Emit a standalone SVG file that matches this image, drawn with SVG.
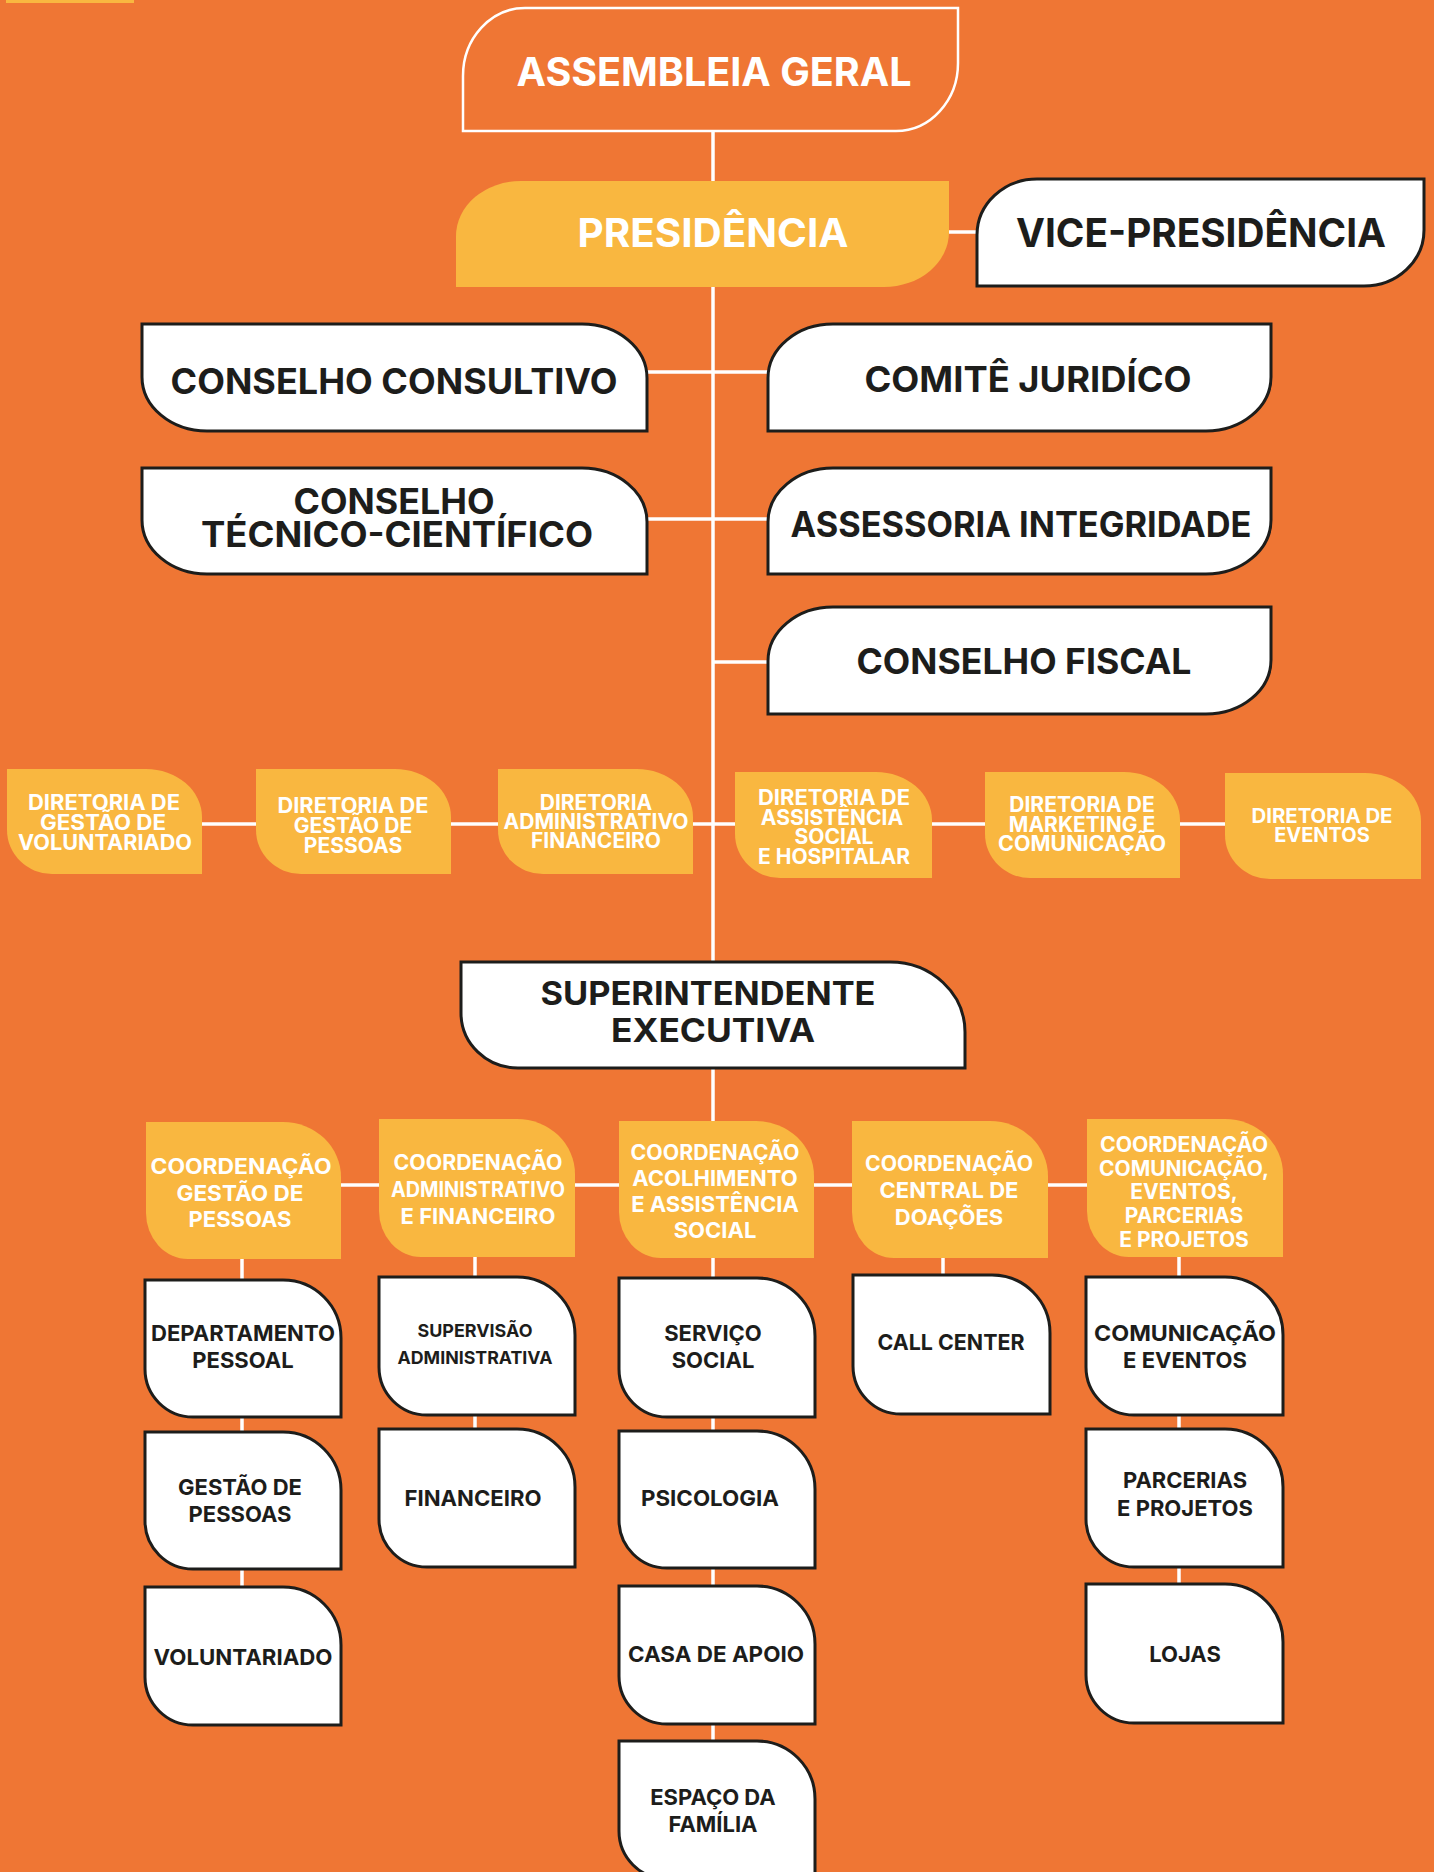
<svg xmlns="http://www.w3.org/2000/svg" width="1434" height="1872" viewBox="0 0 1434 1872">
<style>
.bg{fill:#EF7634}
.yb{fill:#F9B740}
.wb{fill:#FFFFFF;stroke:#1D1D1B;stroke-width:3}
.ob{fill:none;stroke:#FFFFFF;stroke-width:2.5}
.lk{stroke:#FFFFFF;stroke-width:3.5;fill:none}
text{font-family:Inter,"Liberation Sans",sans-serif;font-weight:700;text-anchor:middle}
.tw{fill:#FFFFFF}
.td{fill:#1D1D1B}
.f40{font-size:40px}
.f35{font-size:35px}
.f32{font-size:32px}
.f21{font-size:21px}
.f20{font-size:20px}
.f22{font-size:22px}
.f18{font-size:18px}
</style>
<rect class="bg" x="0" y="0" width="1434" height="1872"/>
<rect class="yb" x="6" y="0" width="128" height="3"/>
<g id="connectors">
<line class="lk" x1="713" y1="131" x2="713" y2="962"/>
<line class="lk" x1="713" y1="1068" x2="713" y2="1121"/>
<line class="lk" x1="949" y1="232" x2="977" y2="232"/>
<line class="lk" x1="647" y1="372" x2="768" y2="372"/>
<line class="lk" x1="647" y1="519" x2="768" y2="519"/>
<line class="lk" x1="713" y1="662" x2="768" y2="662"/>
<line class="lk" x1="202" y1="824" x2="1225" y2="824"/>
<line class="lk" x1="341" y1="1185" x2="1087" y2="1185"/>
<line class="lk" x1="242" y1="1259" x2="242" y2="1587"/>
<line class="lk" x1="475" y1="1257" x2="475" y2="1429"/>
<line class="lk" x1="713" y1="1258" x2="713" y2="1741"/>
<line class="lk" x1="943" y1="1258" x2="943" y2="1275"/>
<line class="lk" x1="1179" y1="1257" x2="1179" y2="1584"/>
</g>
<g id="assembleia">
<path class="ob" d="M525,8 H958 V63 A62 68 0 0 1 896,131 H463 V76 A62 68 0 0 1 525,8 Z"/>
<text class="tw f40" x="714" y="86" textLength="395" lengthAdjust="spacingAndGlyphs">ASSEMBLEIA GERAL</text>
</g>
<g id="presidencia">
<path class="yb" d="M521,181 H949 V232 A65 55 0 0 1 884,287 H456 V236 A65 55 0 0 1 521,181 Z"/>
<text class="tw f40" x="713" y="247" textLength="271" lengthAdjust="spacingAndGlyphs">PRESIDÊNCIA</text>
</g>
<g id="vice">
<path class="wb" d="M1037,179 H1424 V230 A60 56 0 0 1 1364,286 H977 V235 A60 56 0 0 1 1037,179 Z"/>
<text class="td f40" x="1201" y="247" textLength="370" lengthAdjust="spacingAndGlyphs">VICE-PRESIDÊNCIA</text>
</g>
<g id="consultivo">
<path class="wb" d="M142,324 H582 A65 54 0 0 1 647,378 V431 H207 A65 54 0 0 1 142,377 Z"/>
<text class="td f35" x="394" y="394" textLength="447" lengthAdjust="spacingAndGlyphs">CONSELHO CONSULTIVO</text>
</g>
<g id="tecnico">
<path class="wb" d="M142,468 H582 A65 54 0 0 1 647,522 V574 H207 A65 54 0 0 1 142,520 Z"/>
<text class="td f35" x="394" y="514" textLength="201" lengthAdjust="spacingAndGlyphs">CONSELHO</text>
<text class="td f35" x="397" y="547" textLength="392" lengthAdjust="spacingAndGlyphs">TÉCNICO-CIENTÍFICO</text>
</g>
<g id="comite">
<path class="wb" d="M833,324 H1271 V377 A65 54 0 0 1 1206,431 H768 V378 A65 54 0 0 1 833,324 Z"/>
<text class="td f35" x="1028" y="392" textLength="327" lengthAdjust="spacingAndGlyphs">COMITÊ JURIDÍCO</text>
</g>
<g id="assessoria">
<path class="wb" d="M833,468 H1271 V520 A65 54 0 0 1 1206,574 H768 V522 A65 54 0 0 1 833,468 Z"/>
<text class="td f35" x="1021" y="537" textLength="461" lengthAdjust="spacingAndGlyphs">ASSESSORIA INTEGRIDADE</text>
</g>
<g id="fiscal">
<path class="wb" d="M833,607 H1271 V660 A65 54 0 0 1 1206,714 H768 V661 A65 54 0 0 1 833,607 Z"/>
<text class="td f35" x="1024" y="674" textLength="335" lengthAdjust="spacingAndGlyphs">CONSELHO FISCAL</text>
</g>
<g id="dir-voluntariado">
<path class="yb" d="M7,769 H146 A56 48 0 0 1 202,817 V874 H52 A45 44 0 0 1 7,830 Z"/>
<text class="tw f21" x="104" y="810" textLength="152" lengthAdjust="spacingAndGlyphs">DIRETORIA DE</text>
<text class="tw f21" x="103" y="830" textLength="126" lengthAdjust="spacingAndGlyphs">GESTÃO DE</text>
<text class="tw f21" x="105" y="850" textLength="174" lengthAdjust="spacingAndGlyphs">VOLUNTARIADO</text>
</g>
<g id="dir-pessoas">
<path class="yb" d="M256,769 H395 A56 48 0 0 1 451,817 V874 H301 A45 44 0 0 1 256,830 Z"/>
<text class="tw f21" x="353" y="813" textLength="151" lengthAdjust="spacingAndGlyphs">DIRETORIA DE</text>
<text class="tw f21" x="353" y="833">GESTÃO DE</text>
<text class="tw f21" x="353" y="853">PESSOAS</text>
</g>
<g id="dir-adm">
<path class="yb" d="M498,769 H637 A56 48 0 0 1 693,817 V874 H543 A45 44 0 0 1 498,830 Z"/>
<text class="tw f21" x="596" y="810">DIRETORIA</text>
<text class="tw f21" x="596" y="829" textLength="185" lengthAdjust="spacingAndGlyphs">ADMINISTRATIVO</text>
<text class="tw f21" x="596" y="848">FINANCEIRO</text>
</g>
<g id="dir-assistencia">
<path class="yb" d="M735,772 H876 A56 48 0 0 1 932,820 V878 H780 A45 44 0 0 1 735,834 Z"/>
<text class="tw f21" x="834" y="805" textLength="152" lengthAdjust="spacingAndGlyphs">DIRETORIA DE</text>
<text class="tw f21" x="832" y="825">ASSISTÊNCIA</text>
<text class="tw f21" x="834" y="844">SOCIAL</text>
<text class="tw f21" x="834" y="864">E HOSPITALAR</text>
</g>
<g id="dir-marketing">
<path class="yb" d="M985,772 H1124 A56 48 0 0 1 1180,820 V878 H1030 A45 44 0 0 1 985,834 Z"/>
<text class="tw f21" x="1082" y="812">DIRETORIA DE</text>
<text class="tw f21" x="1082" y="832">MARKETING E</text>
<text class="tw f21" x="1082" y="851" textLength="168" lengthAdjust="spacingAndGlyphs">COMUNICAÇÃO</text>
</g>
<g id="dir-eventos">
<path class="yb" d="M1225,773 H1365 A56 48 0 0 1 1421,821 V879 H1270 A45 44 0 0 1 1225,835 Z"/>
<text class="tw f20" x="1322" y="823" textLength="141" lengthAdjust="spacingAndGlyphs">DIRETORIA DE</text>
<text class="tw f20" x="1322" y="842">EVENTOS</text>
</g>
<g id="superintendente">
<path class="wb" d="M461,962 H890 A75 70 0 0 1 965,1032 V1068 H518 A57 55 0 0 1 461,1013 Z"/>
<text class="td f32" x="708" y="1005" textLength="335" lengthAdjust="spacingAndGlyphs">SUPERINTENDENTE</text>
<text class="td f32" x="713" y="1042" textLength="204" lengthAdjust="spacingAndGlyphs">EXECUTIVA</text>
</g>
<g id="coord-pessoas">
<path class="yb" d="M146,1122 H283 A58 55 0 0 1 341,1177 V1259 H188 A42 46 0 0 1 146,1213 Z"/>
<text class="tw f21" x="241" y="1174" textLength="181" lengthAdjust="spacingAndGlyphs">COORDENAÇÃO</text>
<text class="tw f22" x="240" y="1201" textLength="127" lengthAdjust="spacingAndGlyphs">GESTÃO DE</text>
<text class="tw f22" x="240" y="1227">PESSOAS</text>
</g>
<g id="coord-adm">
<path class="yb" d="M379,1119 H517 A58 55 0 0 1 575,1174 V1257 H421 A42 46 0 0 1 379,1211 Z"/>
<text class="tw f21" x="478" y="1170" textLength="169" lengthAdjust="spacingAndGlyphs">COORDENAÇÃO</text>
<text class="tw f21" x="478" y="1197" textLength="174" lengthAdjust="spacingAndGlyphs">ADMINISTRATIVO</text>
<text class="tw f22" x="478" y="1224">E FINANCEIRO</text>
</g>
<g id="coord-acolhimento">
<path class="yb" d="M619,1121 H756 A58 55 0 0 1 814,1176 V1258 H661 A42 46 0 0 1 619,1212 Z"/>
<text class="tw f21" x="715" y="1160" textLength="169" lengthAdjust="spacingAndGlyphs">COORDENAÇÃO</text>
<text class="tw f22" x="715" y="1186">ACOLHIMENTO</text>
<text class="tw f22" x="715" y="1212">E ASSISTÊNCIA</text>
<text class="tw f22" x="715" y="1238">SOCIAL</text>
</g>
<g id="coord-doacoes">
<path class="yb" d="M852,1121 H990 A58 55 0 0 1 1048,1176 V1258 H894 A42 46 0 0 1 852,1212 Z"/>
<text class="tw f21" x="949" y="1171" textLength="168" lengthAdjust="spacingAndGlyphs">COORDENAÇÃO</text>
<text class="tw f22" x="949" y="1198">CENTRAL DE</text>
<text class="tw f22" x="949" y="1225">DOAÇÕES</text>
</g>
<g id="coord-comunicacao">
<path class="yb" d="M1087,1119 H1225 A58 55 0 0 1 1283,1174 V1257 H1129 A42 46 0 0 1 1087,1211 Z"/>
<text class="tw f21" x="1184" y="1152" textLength="168" lengthAdjust="spacingAndGlyphs">COORDENAÇÃO</text>
<text class="tw f21" x="1184" y="1176" textLength="170" lengthAdjust="spacingAndGlyphs">COMUNICAÇÃO,</text>
<text class="tw f21" x="1184" y="1199">EVENTOS,</text>
<text class="tw f21" x="1184" y="1223">PARCERIAS</text>
<text class="tw f21" x="1184" y="1247">E PROJETOS</text>
</g>
<g id="dep-pessoal">
<path class="wb" d="M145,1280 H283 A58 58 0 0 1 341,1338 V1417 H193 A48 48 0 0 1 145,1369 Z"/>
<text class="td f22" x="243" y="1341" textLength="184" lengthAdjust="spacingAndGlyphs">DEPARTAMENTO</text>
<text class="td f22" x="243" y="1368">PESSOAL</text>
</g>
<g id="gestao-pessoas">
<path class="wb" d="M145,1432 H283 A58 58 0 0 1 341,1490 V1569 H193 A48 48 0 0 1 145,1521 Z"/>
<text class="td f22" x="240" y="1495">GESTÃO DE</text>
<text class="td f22" x="240" y="1522">PESSOAS</text>
</g>
<g id="voluntariado">
<path class="wb" d="M145,1587 H283 A58 58 0 0 1 341,1645 V1725 H193 A48 48 0 0 1 145,1677 Z"/>
<text class="td f22" x="243" y="1665" textLength="179" lengthAdjust="spacingAndGlyphs">VOLUNTARIADO</text>
</g>
<g id="supervisao">
<path class="wb" d="M379,1277 H517 A58 58 0 0 1 575,1335 V1415 H427 A48 48 0 0 1 379,1367 Z"/>
<text class="td f18" x="475" y="1337" textLength="115" lengthAdjust="spacingAndGlyphs">SUPERVISÃO</text>
<text class="td f18" x="475" y="1364" textLength="155" lengthAdjust="spacingAndGlyphs">ADMINISTRATIVA</text>
</g>
<g id="financeiro">
<path class="wb" d="M379,1429 H517 A58 58 0 0 1 575,1487 V1567 H427 A48 48 0 0 1 379,1519 Z"/>
<text class="td f22" x="473" y="1506" textLength="137" lengthAdjust="spacingAndGlyphs">FINANCEIRO</text>
</g>
<g id="servico-social">
<path class="wb" d="M619,1278 H757 A58 58 0 0 1 815,1336 V1417 H667 A48 48 0 0 1 619,1369 Z"/>
<text class="td f22" x="713" y="1341">SERVIÇO</text>
<text class="td f22" x="713" y="1368">SOCIAL</text>
</g>
<g id="psicologia">
<path class="wb" d="M619,1431 H757 A58 58 0 0 1 815,1489 V1568 H667 A48 48 0 0 1 619,1520 Z"/>
<text class="td f22" x="710" y="1506" textLength="138" lengthAdjust="spacingAndGlyphs">PSICOLOGIA</text>
</g>
<g id="casa-apoio">
<path class="wb" d="M619,1586 H757 A58 58 0 0 1 815,1644 V1724 H667 A48 48 0 0 1 619,1676 Z"/>
<text class="td f22" x="716" y="1662" textLength="176" lengthAdjust="spacingAndGlyphs">CASA DE APOIO</text>
</g>
<g id="espaco-familia">
<path class="wb" d="M619,1741 H757 A58 58 0 0 1 815,1799 V1879 H667 A48 48 0 0 1 619,1831 Z"/>
<text class="td f22" x="713" y="1805">ESPAÇO DA</text>
<text class="td f22" x="713" y="1832">FAMÍLIA</text>
</g>
<g id="call-center">
<path class="wb" d="M853,1275 H992 A58 58 0 0 1 1050,1333 V1414 H901 A48 48 0 0 1 853,1366 Z"/>
<text class="td f22" x="951" y="1350" textLength="147" lengthAdjust="spacingAndGlyphs">CALL CENTER</text>
</g>
<g id="comunicacao-eventos">
<path class="wb" d="M1086,1277 H1225 A58 58 0 0 1 1283,1335 V1415 H1134 A48 48 0 0 1 1086,1367 Z"/>
<text class="td f22" x="1185" y="1341" textLength="182" lengthAdjust="spacingAndGlyphs">COMUNICAÇÃO</text>
<text class="td f22" x="1185" y="1368">E EVENTOS</text>
</g>
<g id="parcerias-projetos">
<path class="wb" d="M1086,1429 H1225 A58 58 0 0 1 1283,1487 V1567 H1134 A48 48 0 0 1 1086,1519 Z"/>
<text class="td f22" x="1185" y="1488">PARCERIAS</text>
<text class="td f22" x="1185" y="1516">E PROJETOS</text>
</g>
<g id="lojas">
<path class="wb" d="M1086,1584 H1225 A58 58 0 0 1 1283,1642 V1723 H1134 A48 48 0 0 1 1086,1675 Z"/>
<text class="td f22" x="1185" y="1662">LOJAS</text>
</g>
</svg>
